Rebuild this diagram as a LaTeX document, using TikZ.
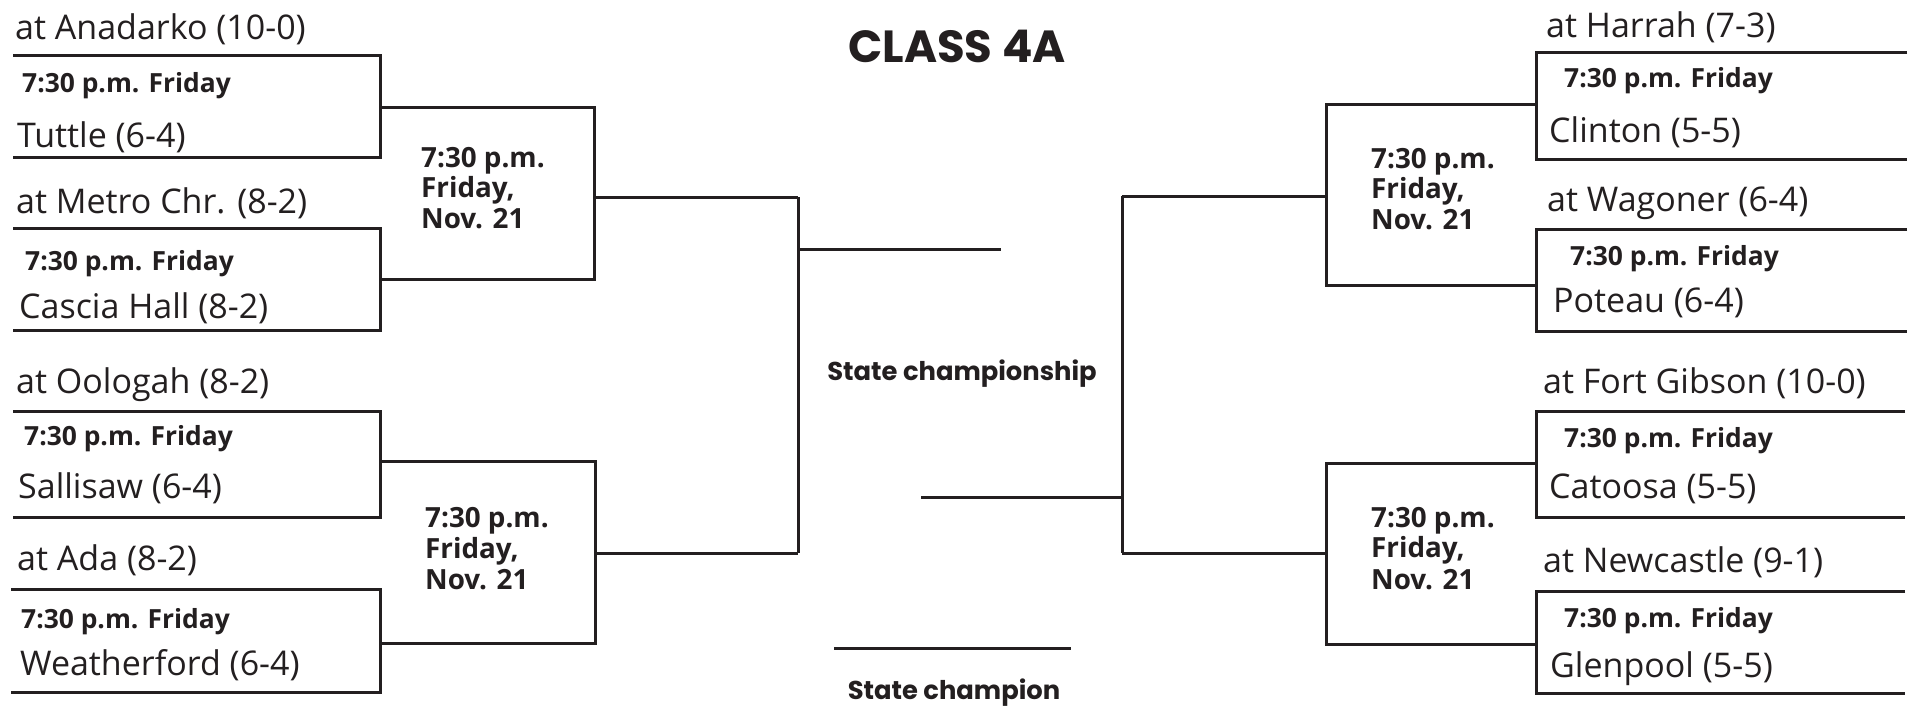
\documentclass[tikz,border=0pt]{standalone}
\usepackage{fontspec}
\setmainfont{Open Sans}
\newfontfamily\popfont{Poppins}
\definecolor{ink}{RGB}{35,31,32}
\begin{document}
\begin{tikzpicture}[x=1pt,y=-1pt,
  team/.style={anchor=base west, inner sep=0pt, text=ink, font=\fontsize{34}{38}\selectfont},
  timea/.style={anchor=base west, inner sep=0pt, text=ink, font=\bfseries\fontsize{26.4}{30}\selectfont},
  timeb/.style={anchor=base west, inner sep=0pt, text=ink, font=\bfseries\fontsize{27.8}{32}\selectfont},
  ttl/.style={anchor=base, inner sep=0pt, text=ink, font=\popfont\bfseries\fontsize{45}{50}\selectfont},
  lbl/.style={anchor=base, inner sep=0pt, text=ink, font=\popfont\bfseries\fontsize{25.8}{30}\selectfont},
  br/.style={draw=ink, line width=3pt}]
\fill[white] (0,0) rectangle (1917,710);
\useasboundingbox (0,0) rectangle (1917,710);

% ---------- coordinates of the bracket ----------
% left, round 1
\coordinate (l1a) at (13,55);  \coordinate (l1b) at (380,55);  \coordinate (l1c) at (380,157); \coordinate (l1d) at (13,157);
\coordinate (l2a) at (13,228); \coordinate (l2b) at (380,228); \coordinate (l2c) at (380,330); \coordinate (l2d) at (13,330);
\coordinate (l3a) at (13,411); \coordinate (l3b) at (380,411); \coordinate (l3c) at (380,517); \coordinate (l3d) at (13,517);
\coordinate (l4a) at (11,589); \coordinate (l4b) at (380,589); \coordinate (l4c) at (380,692); \coordinate (l4d) at (11,692);
% left, round 2
\coordinate (lAa) at (380,107); \coordinate (lAb) at (594,107); \coordinate (lAc) at (594,279); \coordinate (lAd) at (380,279);
\coordinate (lAo) at (594,197);
\coordinate (lBa) at (380,461); \coordinate (lBb) at (595,461); \coordinate (lBc) at (595,643); \coordinate (lBd) at (380,643);
\coordinate (lBo) at (595,553);
% left semifinal
\coordinate (lSa) at (798,197); \coordinate (lSb) at (798,553);
\coordinate (lSo) at (798,249); \coordinate (lSe) at (1001,249);
% right semifinal
\coordinate (rSa) at (1122,196); \coordinate (rSb) at (1122,553);
\coordinate (rSo) at (1122,497); \coordinate (rSe) at (921,497);
% right, round 2
\coordinate (rCo) at (1326,196);
\coordinate (rCa) at (1536,104); \coordinate (rCb) at (1326,104); \coordinate (rCc) at (1326,285); \coordinate (rCd) at (1536,285);
\coordinate (rDo) at (1326,553);
\coordinate (rDa) at (1536,463); \coordinate (rDb) at (1326,463); \coordinate (rDc) at (1326,644); \coordinate (rDd) at (1536,644);
% right, round 1
\coordinate (r1a) at (1907,52);  \coordinate (r1b) at (1536,52);  \coordinate (r1c) at (1536,159); \coordinate (r1d) at (1907,159);
\coordinate (r2a) at (1907,229); \coordinate (r2b) at (1536,229); \coordinate (r2c) at (1536,331); \coordinate (r2d) at (1907,331);
\coordinate (r3a) at (1905,411); \coordinate (r3b) at (1536,411); \coordinate (r3c) at (1536,517); \coordinate (r3d) at (1905,517);
\coordinate (r4a) at (1905,591); \coordinate (r4b) at (1536,591); \coordinate (r4c) at (1536,693); \coordinate (r4d) at (1905,693);
% champion line
\coordinate (cha) at (834,648); \coordinate (chb) at (1071,648);

% ---------- lines ----------
\draw[br] (l1a) -- (l1b) -- (l1c) -- (l1d);
\draw[br] (l2a) -- (l2b) -- (l2c) -- (l2d);
\draw[br] (l3a) -- (l3b) -- (l3c) -- (l3d);
\draw[br] (l4a) -- (l4b) -- (l4c) -- (l4d);
\draw[br] (lAa) -- (lAb) -- (lAc) -- (lAd);
\draw[br] (lBa) -- (lBb) -- (lBc) -- (lBd);
\draw[br] (lAo) -- (lSa);
\draw[br] (lBo) -- (lSb);
\draw[br] (lSa) -- (lSb);
\draw[br] (lSo) -- (lSe);
\draw[br] (rSa) -- (rSb);
\draw[br] (rSo) -- (rSe);
\draw[br] (rSa) -- (rCo);
\draw[br] (rSb) -- (rDo);
\draw[br] (rCa) -- (rCb) -- (rCc) -- (rCd);
\draw[br] (rDa) -- (rDb) -- (rDc) -- (rDd);
\draw[br] (r1a) -- (r1b) -- (r1c) -- (r1d);
\draw[br] (r2a) -- (r2b) -- (r2c) -- (r2d);
\draw[br] (r3a) -- (r3b) -- (r3c) -- (r3d);
\draw[br] (r4a) -- (r4b) -- (r4c) -- (r4d);
\draw[br] (cha) -- (chb);

% ---------- titles ----------
\node[ttl] (title) at (957,62) {CLASS 4A};
\node[lbl] (final) at (962,380) {State championship};
\node[lbl] (champ) at (954,699) {State champion};

% ---------- left teams ----------
\node[team]  (t1h) at (15,39)  {at Anadarko (10-0)};
\node[timea] (t1t) at (22,92)  {7:30 p.m. Friday};
\node[team]  (t1v) at (17,147) {Tuttle (6-4)};
\node[team]  (t2h) at (16,213) {at Metro Chr. (8-2)};
\node[timea] (t2t) at (25,270) {7:30 p.m. Friday};
\node[team]  (t2v) at (19,318) {Cascia Hall (8-2)};
\node[team]  (t3h) at (16,393) {at Oologah (8-2)};
\node[timea] (t3t) at (24,445) {7:30 p.m. Friday};
\node[team]  (t3v) at (18,498) {Sallisaw (6-4)};
\node[team]  (t4h) at (17,570) {at Ada (8-2)};
\node[timea] (t4t) at (21,628) {7:30 p.m. Friday};
\node[team]  (t4v) at (20,675) {Weatherford (6-4)};
% left round 2
\node[timeb] (qA1) at (421,167) {7:30 p.m.};
\node[timeb] (qA2) at (421,197) {Friday,};
\node[timeb] (qA3) at (421,228) {Nov. 21};
\node[timeb] (qB1) at (425,527) {7:30 p.m.};
\node[timeb] (qB2) at (425,558) {Friday,};
\node[timeb] (qB3) at (425,589) {Nov. 21};

% ---------- right teams ----------
\node[team]  (u1h) at (1546,37)  {at Harrah (7-3)};
\node[timea] (u1t) at (1564,87)  {7:30 p.m. Friday};
\node[team]  (u1v) at (1549,142) {Clinton (5-5)};
\node[team]  (u2h) at (1547,211) {at Wagoner (6-4)};
\node[timea] (u2t) at (1570,265) {7:30 p.m. Friday};
\node[team]  (u2v) at (1553,312) {Poteau (6-4)};
\node[team]  (u3h) at (1543,393) {at Fort Gibson (10-0)};
\node[timea] (u3t) at (1564,447) {7:30 p.m. Friday};
\node[team]  (u3v) at (1549,498) {Catoosa (5-5)};
\node[team]  (u4h) at (1543,572) {at Newcastle (9-1)};
\node[timea] (u4t) at (1564,627) {7:30 p.m. Friday};
\node[team]  (u4v) at (1550,677) {Glenpool (5-5)};
% right round 2
\node[timeb] (qC1) at (1371,168) {7:30 p.m.};
\node[timeb] (qC2) at (1371,198) {Friday,};
\node[timeb] (qC3) at (1371,229) {Nov. 21};
\node[timeb] (qD1) at (1371,527) {7:30 p.m.};
\node[timeb] (qD2) at (1371,557) {Friday,};
\node[timeb] (qD3) at (1371,589) {Nov. 21};
\end{tikzpicture}
\end{document}
